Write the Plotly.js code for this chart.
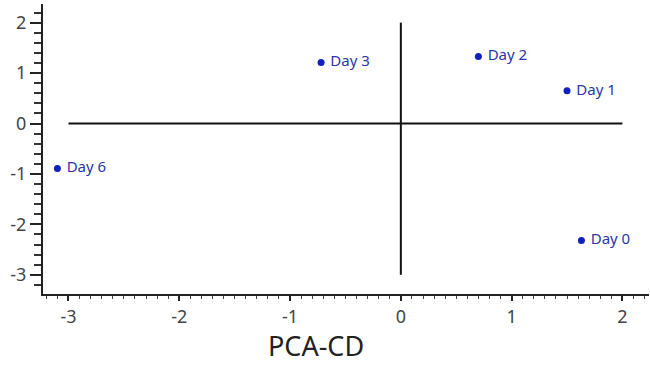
<!DOCTYPE html>
<html>
<head>
<meta charset="utf-8">
<script src="https://cdn.plot.ly/plotly-3.0.1.min.js"></script>
<style>html,body{margin:0;padding:0;background:#fff;}#chart{width:650px;height:365px;}</style>
</head>
<body>
<div id="chart"></div>
<script>
const dayLabels = ["Day 0", "Day 1", "Day 2", "Day 3", "Day 6"];
const pcaX = [1.63, 1.50, 0.70, -0.72, -3.10];
const pcaY = [-2.32, 0.65, 1.33, 1.21, -0.89];

const hLineX = [-3, 2];
const hLineY = [0, 0];
const vLineX = [0, 0];
const vLineY = [2, -3];

const xTicks = [-3, -2, -1, 0, 1, 2];
const yTicks = [-3, -2, -1, 0, 1, 2];
const xTitle = "PCA-CD";

const fontFam = "'Noto Sans', 'Open Sans', sans-serif";

const traces = [
  {x: hLineX, y: hLineY, mode: 'lines', line: {color: '#111', width: 2}, hoverinfo: 'skip', showlegend: false},
  {x: vLineX, y: vLineY, mode: 'lines', line: {color: '#111', width: 2}, hoverinfo: 'skip', showlegend: false},
  {x: pcaX, y: pcaY, text: dayLabels, mode: 'markers+text', textposition: 'middle right',
   texttemplate: ' %{text}',
   marker: {color: '#1020c0', size: 7},
   textfont: {family: fontFam, size: 15, color: '#2a35a8'},
   showlegend: false}
];

const layout = {
  width: 650, height: 365,
  margin: {l: 43, r: 1, t: 4, b: 71},
  paper_bgcolor: '#fff', plot_bgcolor: '#fff',
  font: {family: fontFam, color: '#333'},
  xaxis: {
    range: [-3.23, 2.24], tickvals: xTicks, ticktext: xTicks.map(String),
    showgrid: false, zeroline: false, showline: true, linecolor: '#222', linewidth: 2,
    ticks: 'outside', ticklen: 5, tickwidth: 2, tickcolor: '#222',
    tickfont: {size: 18, color: '#444', family: fontFam},
    minor: {dtick: 0.1, ticks: 'outside', ticklen: 3, tickwidth: 1, tickcolor: '#444', showgrid: false}
  },
  yaxis: {
    range: [-3.38, 2.37], tickvals: yTicks, ticktext: yTicks.map(String),
    showgrid: false, zeroline: false, showline: true, linecolor: '#222', linewidth: 2,
    ticks: 'outside', ticklen: 11, tickwidth: 2, tickcolor: '#222',
    tickfont: {size: 18, color: '#444', family: fontFam},
    minor: {dtick: 0.2, ticks: 'outside', ticklen: 7, tickwidth: 2, tickcolor: '#333', showgrid: false}
  },
  annotations: [{
    text: xTitle, xref: 'paper', yref: 'paper', x: 0.45, y: -0.176,
    xanchor: 'center', yanchor: 'middle', showarrow: false,
    font: {size: 27, color: '#222', family: fontFam}
  }]
};

Plotly.newPlot('chart', traces, layout, {displayModeBar: false, staticPlot: true});
</script>
</body>
</html>
